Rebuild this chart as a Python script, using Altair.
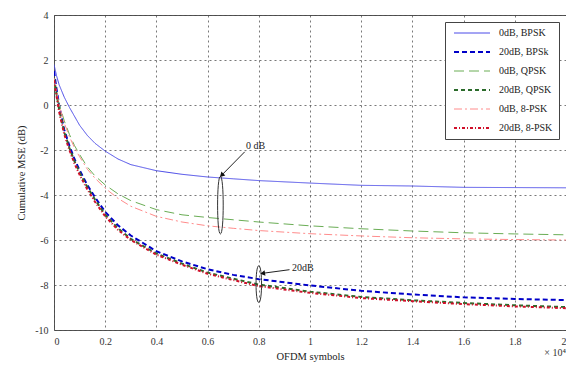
import altair as alt
import pandas as pd

# ---- data (x in units of 10^4 OFDM symbols) ----
x_vals = [0, 0.01, 0.02, 0.04, 0.06, 0.08, 0.1, 0.13, 0.16, 0.2, 0.25, 0.3,
          0.4, 0.5, 0.6, 0.7, 0.8, 1.0, 1.2, 1.4, 1.6, 1.8, 2.0]
bpsk_0 = [1.8, 1.3, 0.9, 0.35, -0.1, -0.5, -0.9, -1.35, -1.7, -2.05, -2.4, -2.65,
          -2.92, -3.08, -3.2, -3.28, -3.36, -3.47, -3.57, -3.6, -3.66, -3.67, -3.68]
bpsk_20 = [1.5, 0.7, 0.0, -1.1, -1.8, -2.4, -2.9, -3.55, -4.1, -4.75, -5.35, -5.8,
           -6.5, -6.95, -7.3, -7.55, -7.74, -8.02, -8.26, -8.42, -8.55, -8.62, -8.67]
qpsk_0 = [0.9, 0.5, 0.05, -0.7, -1.3, -1.8, -2.2, -2.75, -3.15, -3.55, -3.95, -4.25,
          -4.65, -4.88, -5.0, -5.1, -5.2, -5.37, -5.5, -5.6, -5.68, -5.73, -5.77]
qpsk_20 = [1.2, 0.5, -0.2, -1.2, -1.9, -2.5, -3.0, -3.65, -4.2, -4.88, -5.48, -5.95,
           -6.6, -7.05, -7.45, -7.72, -7.98, -8.3, -8.53, -8.68, -8.8, -8.9, -8.98]
psk8_0 = [1.2, 0.6, 0.0, -0.8, -1.4, -1.9, -2.3, -2.85, -3.25, -3.7, -4.15, -4.5,
          -4.95, -5.2, -5.37, -5.48, -5.58, -5.72, -5.82, -5.9, -5.95, -5.98, -6.0]
psk8_20 = [1.1, 0.4, -0.3, -1.3, -2.0, -2.6, -3.1, -3.75, -4.3, -4.95, -5.55, -6.0,
           -6.65, -7.1, -7.5, -7.78, -8.05, -8.35, -8.58, -8.72, -8.85, -8.95, -9.03]

series_names = ["0dB, BPSK", "20dB, BPSk", "0dB, QPSK", "20dB, QPSK", "0dB, 8-PSK", "20dB, 8-PSK"]
series_values = [bpsk_0, bpsk_20, qpsk_0, qpsk_20, psk8_0, psk8_20]
colors = ["#4b4be8", "#0000c8", "#6aad55", "#2b6b2b", "#ff8c8c", "#d0102a"]
dashes = [[1, 0], [5, 3], [10, 5], [4, 3], [8, 3, 2, 3], [3, 2, 1, 2]]
widths = [1, 2, 1, 2, 1, 2]

x_ticks = [0, 0.2, 0.4, 0.6, 0.8, 1, 1.2, 1.4, 1.6, 1.8, 2]
y_ticks = [-10, -8, -6, -4, -2, 0, 2, 4]

# annotations
ann_labels = ["0 dB", "20dB"]
ann_text_x = [0.75, 0.93]
ann_text_y = [-1.8, -7.25]
arrow_x = [0.745, 0.92]
arrow_y = [-2.08, -7.32]
arrow_tip_x = [0.655, 0.815]
arrow_tip_y = [-3.12, -7.48]
arrow_angle = [224, 261]
ell_x = [0.65, 0.80]
ell_y = [-4.45, -7.96]

rows = []
for name, vals in zip(series_names, series_values):
    for xv, yv in zip(x_vals, vals):
        rows.append({"x": xv, "y": yv, "series": name})
df = pd.DataFrame(rows)

ann = pd.DataFrame({"t": ann_labels, "tx": ann_text_x, "ty": ann_text_y,
                    "ax": arrow_x, "ay": arrow_y, "bx": arrow_tip_x, "by": arrow_tip_y,
                    "ang": arrow_angle, "ex": ell_x, "ey": ell_y})

FONT = "Liberation Serif"
xscale = alt.Scale(domain=[0, 2], nice=False, zero=False)
yscale = alt.Scale(domain=[-10, 4], nice=False, zero=False)

x_enc = alt.X("x:Q", scale=xscale,
              axis=alt.Axis(values=x_ticks, labelExpr="'' + datum.value", title="OFDM symbols"))
y_enc = alt.Y("y:Q", scale=yscale,
              axis=alt.Axis(values=y_ticks, labelExpr="'' + datum.value", title="Cumulative MSE (dB)"))

lines = alt.Chart(df).mark_line(clip=True).encode(
    x=x_enc,
    y=y_enc,
    color=alt.Color("series:N", scale=alt.Scale(domain=series_names, range=colors),
                    legend=alt.Legend(title=None)),
    strokeDash=alt.StrokeDash("series:N", scale=alt.Scale(domain=series_names, range=dashes),
                              legend=alt.Legend(title=None)),
    strokeWidth=alt.StrokeWidth("series:N",
                                scale=alt.Scale(type="ordinal", domain=series_names, range=widths),
                                legend=alt.Legend(title=None)),
)

base = alt.Chart(ann)
texts = base.mark_text(align="left", baseline="middle", font=FONT, fontSize=10, color="#222").encode(
    x=alt.X("tx:Q", scale=xscale), y=alt.Y("ty:Q", scale=yscale), text="t:N")
arrows = base.mark_rule(color="#222", strokeWidth=1).encode(
    x=alt.X("ax:Q", scale=xscale), y=alt.Y("ay:Q", scale=yscale),
    x2="bx:Q", y2="by:Q")
heads = base.mark_point(shape="triangle-up", filled=True, color="#111", size=30, opacity=1).encode(
    x=alt.X("bx:Q", scale=xscale), y=alt.Y("by:Q", scale=yscale), angle=alt.Angle("ang:Q", scale=None))

ell1 = alt.Chart(ann.iloc[[0]]).mark_point(
    shape="M0,-1C0.13,-1 0.13,1 0,1C-0.13,1 -0.13,-1 0,-1Z",
    size=3320, filled=False, color="#333", strokeWidth=1, opacity=1).encode(
    x=alt.X("ex:Q", scale=xscale), y=alt.Y("ey:Q", scale=yscale))
ell2 = alt.Chart(ann.iloc[[1]]).mark_point(
    shape="M0,-1C0.2,-1 0.2,1 0,1C-0.2,1 -0.2,-1 0,-1Z",
    size=1354, filled=False, color="#333", strokeWidth=1, opacity=1).encode(
    x=alt.X("ex:Q", scale=xscale), y=alt.Y("ey:Q", scale=yscale))

expo = alt.Chart(pd.DataFrame({"x": [2], "y": [-10], "t": ["\u00d7 10\u2074"]})).mark_text(
    align="right", baseline="top", font=FONT, fontSize=10, color="#333", dy=18, dx=0).encode(
    x=alt.X("x:Q", scale=xscale), y=alt.Y("y:Q", scale=yscale), text="t:N")

chart = alt.layer(lines, ell1, ell2, arrows, heads, texts, expo).properties(
    width=558, height=354,
    autosize=alt.AutoSizeParams(type="fit", contains="padding"),
    padding={"left": 8, "top": 2, "right": 0, "bottom": 0},
).configure_view(
    stroke="#555", strokeWidth=1
).configure_axis(
    domain=False, ticks=False,
    grid=True, gridColor="#444", gridDash=[2, 3], gridWidth=0.8, gridOpacity=0.9,
    labelFont=FONT, labelFontSize=10, labelColor="#333", labelPadding=6,
    titleFont=FONT, titleFontSize=10.5, titleFontWeight="normal", titleColor="#222",
).configure_axisY(
    titlePadding=8
).configure_axisX(
    titlePadding=5
).configure_legend(
    orient="top-right", offset=7, strokeColor="#444", fillColor="white",
    padding=6, cornerRadius=0, labelFont=FONT, labelFontSize=10, labelColor="#222",
    symbolType="M-6,0H6", symbolSize=36, symbolOffset=16, labelOffset=22, rowPadding=9,
    symbolStrokeWidth=1,
)

chart.save("out.html", embed_options={"renderer": "svg", "actions": False})
